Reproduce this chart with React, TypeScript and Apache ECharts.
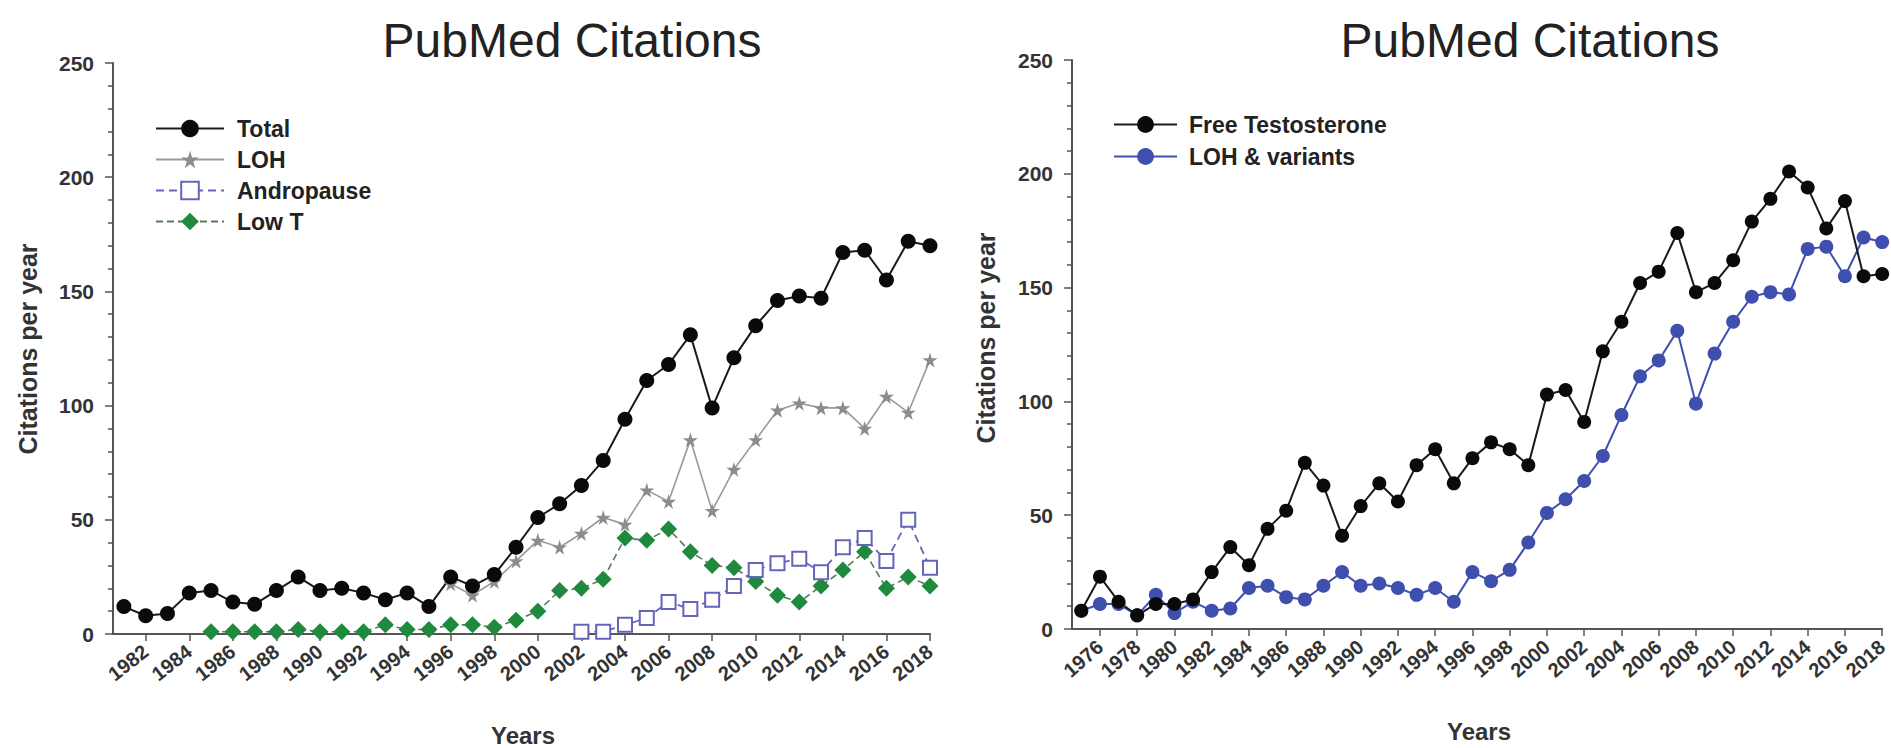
import React, { useEffect, useRef } from "react";
import * as echarts from "echarts";

const FONT = '"Liberation Sans", Arial, Helvetica, sans-serif';

// Left chart
const totalYears = [1981, 1982, 1983, 1984, 1985, 1986, 1987, 1988, 1989, 1990, 1991, 1992, 1993, 1994, 1995, 1996, 1997, 1998, 1999, 2000, 2001, 2002, 2003, 2004, 2005, 2006, 2007, 2008, 2009, 2010, 2011, 2012, 2013, 2014, 2015, 2016, 2017, 2018];
const totalValues = [12, 8, 9, 18, 19, 14, 13, 19, 25, 19, 20, 18, 15, 18, 12, 25, 21, 26, 38, 51, 57, 65, 76, 94, 111, 118, 131, 99, 121, 135, 146, 148, 147, 167, 168, 155, 172, 170];

const lohYears = [1996, 1997, 1998, 1999, 2000, 2001, 2002, 2003, 2004, 2005, 2006, 2007, 2008, 2009, 2010, 2011, 2012, 2013, 2014, 2015, 2016, 2017, 2018];
const lohValues = [22, 17, 23, 32, 41, 38, 44, 51, 48, 63, 58, 85, 54, 72, 85, 98, 101, 99, 99, 90, 104, 97, 120];

const andropauseYears = [2002, 2003, 2004, 2005, 2006, 2007, 2008, 2009, 2010, 2011, 2012, 2013, 2014, 2015, 2016, 2017, 2018];
const andropauseValues = [1, 1, 4, 7, 14, 11, 15, 21, 28, 31, 33, 27, 38, 42, 32, 50, 29];

const lowTYears = [1985, 1986, 1987, 1988, 1989, 1990, 1991, 1992, 1993, 1994, 1995, 1996, 1997, 1998, 1999, 2000, 2001, 2002, 2003, 2004, 2005, 2006, 2007, 2008, 2009, 2010, 2011, 2012, 2013, 2014, 2015, 2016, 2017, 2018];
const lowTValues = [1, 1, 1, 1, 2, 1, 1, 1, 4, 2, 2, 4, 4, 3, 6, 10, 19, 20, 24, 42, 41, 46, 36, 30, 29, 23, 17, 14, 21, 28, 36, 20, 25, 21];

const leftTicks = [1982, 1984, 1986, 1988, 1990, 1992, 1994, 1996, 1998, 2000, 2002, 2004, 2006, 2008, 2010, 2012, 2014, 2016, 2018];

// Right chart
const rightYears = [1975, 1976, 1977, 1978, 1979, 1980, 1981, 1982, 1983, 1984, 1985, 1986, 1987, 1988, 1989, 1990, 1991, 1992, 1993, 1994, 1995, 1996, 1997, 1998, 1999, 2000, 2001, 2002, 2003, 2004, 2005, 2006, 2007, 2008, 2009, 2010, 2011, 2012, 2013, 2014, 2015, 2016, 2017, 2018];
const freeTValues = [8, 23, 12, 6, 11, 11, 13, 25, 36, 28, 44, 52, 73, 63, 41, 54, 64, 56, 72, 79, 64, 75, 82, 79, 72, 103, 105, 91, 122, 135, 152, 157, 174, 148, 152, 162, 179, 189, 201, 194, 176, 188, 155, 156];
const lohVariantsValues = [8, 11, 11, 6, 15, 7, 12, 8, 9, 18, 19, 14, 13, 19, 25, 19, 20, 18, 15, 18, 12, 25, 21, 26, 38, 51, 57, 65, 76, 94, 111, 118, 131, 99, 121, 135, 146, 148, 147, 167, 168, 155, 172, 170];

const rightTicks = [1976, 1978, 1980, 1982, 1984, 1986, 1988, 1990, 1992, 1994, 1996, 1998, 2000, 2002, 2004, 2006, 2008, 2010, 2012, 2014, 2016, 2018];

const STAR = "path://M50,0 L61,35 L98,35 L68,57 L79,91 L50,70 L21,91 L32,57 L2,35 L39,35 Z";

function pairs(xs: number[], ys: number[]) {
  return xs.map((x, i) => [x, ys[i]]);
}

function xAxisCfg(gridIndex: number, min: number, max: number, ticks: number[], rotate: number) {
  return {
    type: "value",
    gridIndex,
    min,
    max,
    axisLine: { show: true, onZero: false, lineStyle: { color: "#555", width: 2 } },
    axisTick: { show: true, length: 7, customValues: ticks, lineStyle: { color: "#555", width: 1.5 } },
    axisLabel: {
      customValues: ticks,
      formatter: (v: number) => String(v),
      rotate,
      fontSize: 20,
      fontWeight: "bold",
      color: "#333",
      margin: 15,
      fontFamily: FONT,
    },
    splitLine: { show: false },
  };
}

function yAxisCfg(gridIndex: number) {
  return {
    type: "value",
    gridIndex,
    min: 0,
    max: 250,
    interval: 50,
    axisLine: { show: true, lineStyle: { color: "#555", width: 2 } },
    axisTick: { show: true, length: 8, lineStyle: { color: "#555", width: 1.5 } },
    minorTick: { show: true, splitNumber: 5, length: 5, lineStyle: { color: "#555", width: 1.5 } },
    axisLabel: { fontSize: 21, fontWeight: "bold", color: "#333", margin: 19, fontFamily: FONT },
    splitLine: { show: false },
    minorSplitLine: { show: false },
  };
}

const legendText = { fontSize: 23, fontWeight: "bold", color: "#222", fontFamily: FONT };

function buildOption() {
  return {
    animation: false,
    backgroundColor: "#ffffff",
    grid: [
      { left: 113, top: 63, width: 817, height: 571, containLabel: false },
      { left: 1072, top: 60, width: 813, height: 569, containLabel: false },
    ],
    xAxis: [xAxisCfg(0, 1980.5, 2018, leftTicks, 38), xAxisCfg(1, 1974.5, 2018, rightTicks, 41)],
    yAxis: [yAxisCfg(0), yAxisCfg(1)],
    legend: [
      {
        data: ["Total", "LOH", "Andropause", "Low T"],
        orient: "vertical",
        left: 150,
        top: 112,
        itemWidth: 68,
        itemHeight: 22,
        itemGap: 8,
        textStyle: { ...legendText, padding: [0, 0, 0, 8] },
      },
      {
        data: ["Free Testosterone", "LOH & variants"],
        orient: "vertical",
        left: 1108,
        top: 108,
        itemWidth: 63,
        itemHeight: 21,
        itemGap: 9,
        textStyle: { ...legendText, padding: [0, 0, 0, 7] },
      },
    ],
    series: [
      {
        name: "Low T",
        type: "line",
        xAxisIndex: 0,
        yAxisIndex: 0,
        data: pairs(lowTYears, lowTValues),
        symbol: "diamond",
        symbolSize: 17,
        clip: false,
        itemStyle: { color: "#1f8a3e" },
        lineStyle: { color: "#587a60", width: 1.6, type: [7, 4] },
      },
      {
        name: "Andropause",
        type: "line",
        xAxisIndex: 0,
        yAxisIndex: 0,
        data: pairs(andropauseYears, andropauseValues),
        symbol: "emptyRect",
        symbolSize: 14,
        clip: false,
        itemStyle: { color: "#6464bc", borderColor: "#6464bc", borderWidth: 1.8 },
        lineStyle: { color: "#6464bc", width: 1.8, type: [8, 5] },
      },
      {
        name: "LOH",
        type: "line",
        xAxisIndex: 0,
        yAxisIndex: 0,
        data: pairs(lohYears, lohValues),
        symbol: STAR,
        symbolSize: 15,
        clip: false,
        itemStyle: { color: "#8c8c8c" },
        lineStyle: { color: "#9a9a9a", width: 1.6 },
      },
      {
        name: "Total",
        type: "line",
        xAxisIndex: 0,
        yAxisIndex: 0,
        data: pairs(totalYears, totalValues),
        symbol: "circle",
        symbolSize: 15,
        clip: false,
        itemStyle: { color: "#0a0a0a" },
        lineStyle: { color: "#1a1a1a", width: 2 },
      },
      {
        name: "LOH & variants",
        type: "line",
        xAxisIndex: 1,
        yAxisIndex: 1,
        data: pairs(rightYears, lohVariantsValues),
        symbol: "circle",
        symbolSize: 14,
        clip: false,
        itemStyle: { color: "#3f4fae" },
        lineStyle: { color: "#3f4fae", width: 2 },
      },
      {
        name: "Free Testosterone",
        type: "line",
        xAxisIndex: 1,
        yAxisIndex: 1,
        data: pairs(rightYears, freeTValues),
        symbol: "circle",
        symbolSize: 14,
        clip: false,
        itemStyle: { color: "#0a0a0a" },
        lineStyle: { color: "#1a1a1a", width: 2 },
      },
    ],
    graphic: [
      {
        type: "text",
        x: 572,
        y: 40,
        style: {
          text: "PubMed Citations",
          fontSize: 48,
          fontFamily: FONT,
          fill: "#222",
          textAlign: "center",
          textVerticalAlign: "middle",
          align: "center",
          verticalAlign: "middle",
        },
      },
      {
        type: "text",
        x: 1530,
        y: 40,
        style: {
          text: "PubMed Citations",
          fontSize: 48,
          fontFamily: FONT,
          fill: "#222",
          textAlign: "center",
          textVerticalAlign: "middle",
          align: "center",
          verticalAlign: "middle",
        },
      },
      {
        type: "text",
        x: 28,
        y: 349,
        rotation: Math.PI / 2,
        style: {
          text: "Citations per year",
          fontSize: 25,
          fontWeight: "bold",
          fontFamily: FONT,
          fill: "#333",
          textAlign: "center",
          textVerticalAlign: "middle",
          align: "center",
          verticalAlign: "middle",
        },
      },
      {
        type: "text",
        x: 986,
        y: 338,
        rotation: Math.PI / 2,
        style: {
          text: "Citations per year",
          fontSize: 25,
          fontWeight: "bold",
          fontFamily: FONT,
          fill: "#333",
          textAlign: "center",
          textVerticalAlign: "middle",
          align: "center",
          verticalAlign: "middle",
        },
      },
      {
        type: "text",
        x: 523,
        y: 735,
        style: {
          text: "Years",
          fontSize: 24,
          fontWeight: "bold",
          fontFamily: FONT,
          fill: "#333",
          textAlign: "center",
          textVerticalAlign: "middle",
          align: "center",
          verticalAlign: "middle",
        },
      },
      {
        type: "text",
        x: 1479,
        y: 731,
        style: {
          text: "Years",
          fontSize: 24,
          fontWeight: "bold",
          fontFamily: FONT,
          fill: "#333",
          textAlign: "center",
          textVerticalAlign: "middle",
          align: "center",
          verticalAlign: "middle",
        },
      },
    ],
  };
}

export default function App() {
  const ref = useRef<HTMLDivElement>(null);
  useEffect(() => {
    if (!ref.current) return;
    const chart = echarts.init(ref.current, null, { renderer: "svg" });
    chart.setOption(buildOption() as any);
    return () => chart.dispose();
  }, []);
  return (
    <div
      ref={ref}
      style={{ position: "absolute", left: 0, top: 0, width: 1891, height: 748, background: "#fff" }}
    />
  );
}
